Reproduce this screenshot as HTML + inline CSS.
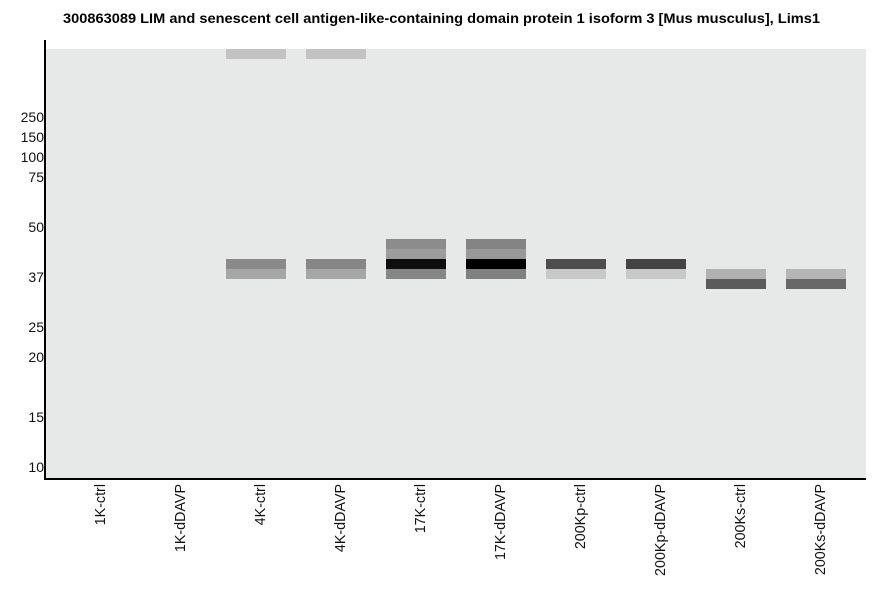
<!DOCTYPE html>
<html><head><style>body{margin:0;background:#fff}svg{display:block}</style></head><body>
<svg width="886" height="595" xmlns="http://www.w3.org/2000/svg" font-family="Liberation Sans, sans-serif">
<text x="63" y="23" font-size="13.5" font-weight="bold" textLength="757" lengthAdjust="spacingAndGlyphs">300863089 LIM and senescent cell antigen-like-containing domain protein 1 isoform 3 [Mus musculus], Lims1</text>
<rect x="46" y="49" width="820" height="430" fill="#e7e9e8"/>
<g>
<rect x="226" y="49" width="60" height="10" fill="#c3c3c3"/>
<rect x="306" y="49" width="60" height="10" fill="#c3c3c3"/>
<rect x="226" y="259" width="60" height="10" fill="#8a8a8a"/>
<rect x="226" y="269" width="60" height="10" fill="#a6a6a6"/>
<rect x="306" y="259" width="60" height="10" fill="#868686"/>
<rect x="306" y="269" width="60" height="10" fill="#a6a6a6"/>
<rect x="386" y="239" width="60" height="10" fill="#8c8c8c"/>
<rect x="386" y="249" width="60" height="10" fill="#9c9c9c"/>
<rect x="386" y="259" width="60" height="10" fill="#0e0e0e"/>
<rect x="386" y="269" width="60" height="10" fill="#868686"/>
<rect x="466" y="239" width="60" height="10" fill="#848484"/>
<rect x="466" y="249" width="60" height="10" fill="#989898"/>
<rect x="466" y="259" width="60" height="10" fill="#000"/>
<rect x="466" y="269" width="60" height="10" fill="#808080"/>
<rect x="546" y="259" width="60" height="10" fill="#4d4d4d"/>
<rect x="546" y="269" width="60" height="10" fill="#c8c8c8"/>
<rect x="626" y="259" width="60" height="10" fill="#434343"/>
<rect x="626" y="269" width="60" height="10" fill="#c8c8c8"/>
<rect x="706" y="269" width="60" height="10" fill="#b1b1b1"/>
<rect x="706" y="279" width="60" height="10" fill="#5b5b5b"/>
<rect x="786" y="269" width="60" height="10" fill="#b5b5b5"/>
<rect x="786" y="279" width="60" height="10" fill="#686868"/>
</g>
<rect x="44" y="40" width="2" height="440" fill="#000"/>
<rect x="44" y="478" width="822" height="2" fill="#000"/>
<g font-size="14" text-anchor="end" fill="#111">
<text x="44" y="122">250</text><text x="44" y="142">150</text><text x="44" y="162">100</text>
<text x="44" y="182">75</text><text x="44" y="232">50</text><text x="44" y="282">37</text>
<text x="44" y="332">25</text><text x="44" y="362">20</text><text x="44" y="422">15</text><text x="44" y="472">10</text>
</g>
<g font-size="14.3" text-anchor="end" fill="#111">
<text transform="translate(105,484) rotate(-90)">1K-ctrl</text>
<text transform="translate(185,484) rotate(-90)">1K-dDAVP</text>
<text transform="translate(265,484) rotate(-90)">4K-ctrl</text>
<text transform="translate(345,484) rotate(-90)">4K-dDAVP</text>
<text transform="translate(425,484) rotate(-90)">17K-ctrl</text>
<text transform="translate(505,484) rotate(-90)">17K-dDAVP</text>
<text transform="translate(585,484) rotate(-90)">200Kp-ctrl</text>
<text transform="translate(665,484) rotate(-90)">200Kp-dDAVP</text>
<text transform="translate(745,484) rotate(-90)">200Ks-ctrl</text>
<text transform="translate(825,484) rotate(-90)">200Ks-dDAVP</text>
</g>
</svg>
</body></html>
